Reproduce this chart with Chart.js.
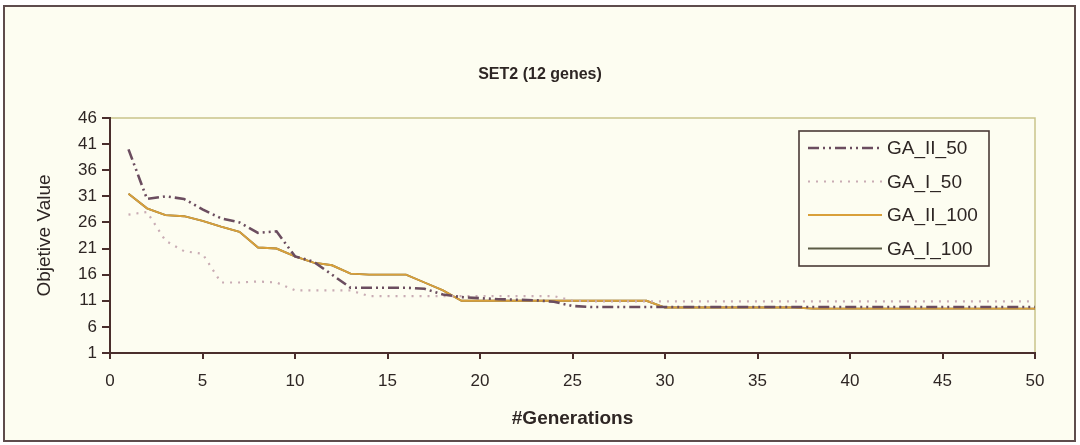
<!DOCTYPE html>
<html>
<head>
<meta charset="utf-8">
<script src="https://cdn.jsdelivr.net/npm/chart.js@4.4.1/dist/chart.umd.min.js"></script>
<style>
  html, body { margin: 0; padding: 0; background: #ffffff; }
  #wrap { width: 1080px; height: 445px; position: relative; }
  canvas { display: block; }
</style>
</head>
<body>
<div id="wrap"><canvas id="c" width="1080" height="445"></canvas></div>
<script>
// ---------------- data ----------------
const chartTitle = 'SET2 (12 genes)';
const xTitle = '#Generations';
const yTitle = 'Objetive Value';
const generations = [1,2,3,4,5,6,7,8,9,10,11,12,13,14,15,16,17,18,19,20,21,22,23,24,25,26,27,28,29,30,31,32,33,34,35,36,37,38,39,40,41,42,43,44,45,46,47,48,49,50];
const seriesNames = ['GA_II_50', 'GA_I_50', 'GA_II_100', 'GA_I_100'];
const GA_II_50 = [40,30.5,31,30.5,28.5,26.8,26,24,24.3,19.5,18.5,16,13.5,13.5,13.5,13.5,13.3,12.2,11.7,11.5,11.3,11.2,11.1,10.8,10,9.8,9.8,9.8,9.8,9.8,9.8,9.8,9.8,9.8,9.8,9.8,9.8,9.8,9.8,9.8,9.8,9.8,9.8,9.8,9.8,9.8,9.8,9.8,9.8,9.8];
const GA_I_50 = [27.5,28,22.5,20.5,20,14.5,14.5,14.7,14.5,13,13,13,13,11.9,11.9,11.9,11.9,11.9,11.9,11.9,11.9,11.9,11.9,11.9,11,10.9,10.9,10.9,10.9,10.9,10.9,10.9,10.9,10.9,10.9,10.9,10.9,10.9,10.9,10.9,10.9,10.9,10.9,10.9,10.9,10.9,10.9,10.9,10.9,10.9];
const GA_II_100 = [31.5,28.7,27.4,27.2,26.3,25.2,24.2,21.2,21,19.5,18.3,17.8,16.2,16,16,16,14.5,13,11,11,11,11,11,11,11,11,11,11,11,9.7,9.7,9.7,9.7,9.7,9.7,9.7,9.7,9.5,9.5,9.5,9.5,9.5,9.5,9.5,9.5,9.5,9.5,9.5,9.5,9.5];
const GA_I_100 = [31.5,28.7,27.4,27.2,26.3,25.2,24.2,21.2,21,19.5,18.3,17.8,16.2,16,16,16,14.5,13,11,11,11,11,11,11,11,11,11,11,11,9.7,9.7,9.7,9.7,9.7,9.7,9.7,9.7,9.5,9.5,9.5,9.5,9.5,9.5,9.5,9.5,9.5,9.5,9.5,9.5,9.5];
const xTicks = [0,5,10,15,20,25,30,35,40,45,50];
const yTicks = [1,6,11,16,21,26,31,36,41,46];

// ---------------- styling ----------------
const FONT = "'Liberation Sans', Arial, sans-serif";
const TXT = '#2e2624';
const AXIS = '#4a2e2c';
const styles = [
  { color: '#6b4d5f', width: 2.6, dash: [11, 4, 2, 4, 2, 4] },
  { color: '#c9acb4', width: 2.2, dash: [2, 6] },
  { color: '#d9a03a', width: 1.9, dash: [] },
  { color: '#5c5c46', width: 1.9, dash: [] }
];
const values = [GA_II_50, GA_I_50, GA_II_100, GA_I_100];

const datasets = seriesNames.map((name, i) => ({
  label: name,
  data: generations.map((g, k) => ({ x: g, y: values[i][k] })),
  borderColor: styles[i].color,
  backgroundColor: styles[i].color,
  borderWidth: styles[i].width,
  borderDash: styles[i].dash,
  pointRadius: 0,
  tension: 0,
  fill: false
}));

const framePlugin = {
  id: 'frame',
  beforeDraw(chart) {
    const ctx = chart.ctx;
    ctx.save();
    ctx.fillStyle = '#ffffff';
    ctx.fillRect(0, 0, chart.width, chart.height);
    ctx.fillStyle = '#fdfdf1';
    ctx.fillRect(4, 6, 1071, 435);
    ctx.strokeStyle = '#5e4c4c';
    ctx.lineWidth = 2;
    ctx.strokeRect(4, 6, 1071, 435);
    // title
    ctx.fillStyle = TXT;
    ctx.font = "bold 16px " + FONT;
    ctx.textAlign = 'center';
    ctx.textBaseline = 'middle';
    ctx.fillText(chartTitle, 540, 75);
    // plot area top/right border
    const a = chart.chartArea;
    ctx.strokeStyle = '#c9c48a';
    ctx.lineWidth = 1.5;
    ctx.beginPath();
    ctx.moveTo(a.left, a.top);
    ctx.lineTo(a.right, a.top);
    ctx.lineTo(a.right, a.bottom);
    ctx.stroke();
    ctx.restore();
  },
  afterDraw(chart) {
    const ctx = chart.ctx;
    const a = chart.chartArea;
    const L = a.right - 236, T = a.top + 13, W = 190, H = 135;
    ctx.save();
    ctx.fillStyle = '#fdfdf1';
    ctx.fillRect(L, T, W, H);
    ctx.strokeStyle = '#4a3a36';
    ctx.lineWidth = 1.6;
    ctx.strokeRect(L, T, W, H);
    ctx.font = "19px " + FONT;
    ctx.textAlign = 'left';
    ctx.textBaseline = 'middle';
    chart.data.datasets.forEach((ds, i) => {
      const y = T + 17 + i * 33.5;
      ctx.strokeStyle = ds.borderColor;
      ctx.lineWidth = ds.borderWidth;
      ctx.setLineDash(ds.borderDash);
      ctx.beginPath();
      ctx.moveTo(L + 9, y);
      ctx.lineTo(L + 83, y);
      ctx.stroke();
      ctx.setLineDash([]);
      ctx.fillStyle = TXT;
      ctx.fillText(ds.label, L + 88, y + 1);
    });
    ctx.restore();
  }
};

new Chart(document.getElementById('c'), {
  type: 'line',
  data: { datasets },
  plugins: [framePlugin],
  options: {
    responsive: false,
    animation: false,
    devicePixelRatio: 1,
    layout: { padding: { left: 0, right: 45, top: 118, bottom: 0 } },
    plugins: { legend: { display: false }, title: { display: false }, tooltip: { enabled: false } },
    scales: {
      x: {
        type: 'linear',
        min: 0, max: 50,
        afterBuildTicks(scale) { scale.ticks = xTicks.map(v => ({ value: v })); },
        afterFit(scale) { scale.height = 92; },
        ticks: { color: TXT, font: { family: FONT, size: 17 }, padding: 12, maxRotation: 0 },
        grid: { display: true, drawOnChartArea: false, drawTicks: true, tickLength: 6, color: AXIS, lineWidth: 2 },
        border: { display: true, color: AXIS, width: 2 },
        title: { display: true, text: xTitle, color: TXT, font: { family: FONT, size: 19, weight: 'bold' }, padding: { top: 0, bottom: 15 } }
      },
      y: {
        type: 'linear',
        min: 1, max: 46,
        afterBuildTicks(scale) { scale.ticks = yTicks.map(v => ({ value: v })); },
        afterFit(scale) { scale.width = 110; },
        ticks: { color: TXT, font: { family: FONT, size: 17 }, padding: 5 },
        grid: { display: true, drawOnChartArea: false, drawTicks: true, tickLength: 8, color: AXIS, lineWidth: 2 },
        border: { display: true, color: AXIS, width: 2 },
        title: { display: true, text: yTitle, color: TXT, font: { family: FONT, size: 19 }, padding: { top: 33, bottom: 0 } }
      }
    }
  }
});
</script>
</body>
</html>
